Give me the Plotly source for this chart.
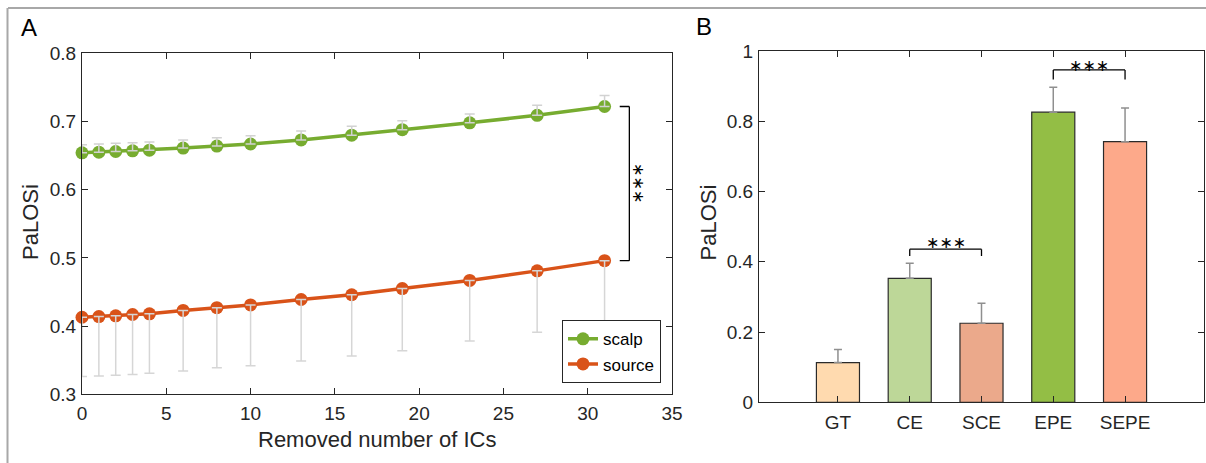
import plotly.graph_objects as go

# ---------------- data ----------------
ic_removed = [0, 1, 2, 3, 4, 6, 8, 10, 13, 16, 19, 23, 27, 31]
scalp_mean = [0.654, 0.655, 0.656, 0.657, 0.658, 0.661, 0.664, 0.667, 0.673, 0.680, 0.688, 0.698, 0.709, 0.722]
scalp_err = [0.012, 0.012, 0.012, 0.012, 0.012, 0.012, 0.012, 0.012, 0.013, 0.013, 0.013, 0.013, 0.015, 0.016]
source_mean = [0.413, 0.414, 0.415, 0.417, 0.418, 0.423, 0.427, 0.431, 0.439, 0.446, 0.455, 0.467, 0.481, 0.496]
source_err = [0.087, 0.087, 0.087, 0.088, 0.087, 0.089, 0.088, 0.089, 0.090, 0.090, 0.091, 0.089, 0.090, 0.091]

groups = ["GT", "CE", "SCE", "EPE", "SEPE"]
group_mean = [0.113, 0.353, 0.225, 0.826, 0.742]
group_err = [0.037, 0.043, 0.057, 0.071, 0.096]
group_colors = ["#FFDAAF", "#BDD798", "#EBA98B", "#93BE45", "#FDA98A"]

W, H = 1206, 463
FONT = "Liberation Sans, Arial, sans-serif"
AX = "#262626"
GREEN = "#77AC30"
ORANGE = "#D95319"


def px_x(p):
    return p / W


def px_y(p):
    return 1 - p / H


fig = go.Figure()

# ---------------- panel A ----------------
fig.add_trace(go.Scatter(
    x=ic_removed, y=scalp_mean, mode="lines+markers", name="scalp",
    line=dict(color=GREEN, width=3.5), marker=dict(color=GREEN, size=13),
    cliponaxis=False, xaxis="x", yaxis="y"))
fig.add_trace(go.Scatter(
    x=ic_removed, y=source_mean, mode="lines+markers", name="source",
    line=dict(color=ORANGE, width=3.5), marker=dict(color=ORANGE, size=13),
    cliponaxis=False, xaxis="x", yaxis="y"))
# error bars drawn above markers
fig.add_trace(go.Scatter(
    x=ic_removed, y=scalp_mean, mode="markers", showlegend=False, hoverinfo="skip",
    marker=dict(color="rgba(0,0,0,0)", size=1),
    error_y=dict(type="data", symmetric=False, array=scalp_err,
                 arrayminus=[0] * len(scalp_err), color="#d2d2d2", thickness=1.5, width=5),
    cliponaxis=False, xaxis="x", yaxis="y"))
fig.add_trace(go.Scatter(
    x=ic_removed, y=source_mean, mode="markers", showlegend=False, hoverinfo="skip",
    marker=dict(color="rgba(0,0,0,0)", size=1),
    error_y=dict(type="data", symmetric=False, array=[0] * len(source_err),
                 arrayminus=source_err, color="#d6d6d6", thickness=1.5, width=5),
    cliponaxis=False, xaxis="x", yaxis="y"))

# ---------------- panel B ----------------
fig.add_trace(go.Bar(
    x=groups, y=group_mean, width=0.6, showlegend=False,
    marker=dict(color=group_colors, line=dict(color="#2a2a2a", width=1.2)),
    error_y=dict(type="data", symmetric=False, array=group_err,
                 arrayminus=[0] * len(group_err), color="#8f8f8f", thickness=1.5, width=4),
    xaxis="x2", yaxis="y2"))

axis_common = dict(showline=True, linecolor=AX, linewidth=1, mirror="ticks",
                   ticks="inside", ticklen=6, tickcolor=AX, tickwidth=1,
                   showgrid=False, zeroline=False, automargin=False,
                   tickfont=dict(family=FONT, size=19, color=AX))

fig.update_layout(
    width=W, height=H,
    margin=dict(l=0, r=0, t=0, b=0, pad=0, autoexpand=False),
    paper_bgcolor="white", plot_bgcolor="white",
    font=dict(family=FONT, color=AX),
    xaxis=dict(domain=[px_x(82), px_x(672)], range=[0, 35], dtick=5, tick0=0,
               anchor="y", ticklabelstandoff=2, **axis_common),
    yaxis=dict(domain=[px_y(394.3), px_y(53.3)], range=[0.3, 0.8], dtick=0.1,
               tick0=0.3, tickformat=".1f", anchor="x", ticklabelstandoff=1, **axis_common),
    xaxis2=dict(domain=[px_x(759), px_x(1204)], range=[-1.1, 5.1],
                type="category", anchor="y2", ticklabelstandoff=3, **axis_common),
    yaxis2=dict(domain=[px_y(402.3), px_y(51)], range=[0, 1], dtick=0.2,
                tick0=0, anchor="x2", ticklabelstandoff=1, **axis_common),
    legend=dict(x=px_x(661), y=px_y(383.3), xanchor="right", yanchor="bottom",
                bgcolor="white", bordercolor=AX, borderwidth=1,
                font=dict(family=FONT, size=17, color="#000000"),
                tracegroupgap=0, itemwidth=30),
    showlegend=True,
)

shapes = []
# outer frame (top and left)
shapes.append(dict(type="line", xref="paper", yref="paper",
                   x0=px_x(8), x1=1, y0=px_y(8), y1=px_y(8),
                   line=dict(color="#a8a8a8", width=2)))
shapes.append(dict(type="line", xref="paper", yref="paper",
                   x0=px_x(7.5), x1=px_x(7.5), y0=px_y(8), y1=0,
                   line=dict(color="#a8a8a8", width=2)))

# bracket in panel A between scalp and source at last point
bx0, bx1 = 31.9, 32.47
ytop, ybot = scalp_mean[-1], source_mean[-1]
for (xa, ya, xb, yb) in [(bx1, ytop, bx1, ybot), (bx0, ytop, bx1, ytop), (bx0, ybot, bx1, ybot)]:
    shapes.append(dict(type="line", xref="x", yref="y", x0=xa, y0=ya, x1=xb, y1=yb,
                       line=dict(color="#000000", width=1.3)))

# brackets in panel B
for (g0, g1, yh, yl) in [("CE", "SCE", 0.436, 0.4165), ("EPE", "SEPE", 0.946, 0.919)]:
    i0, i1 = groups.index(g0), groups.index(g1)
    for (xa, ya, xb, yb) in [(i0, yh, i1, yh), (i0, yh, i0, yl), (i1, yh, i1, yl)]:
        shapes.append(dict(type="line", xref="x2", yref="y2", x0=xa, y0=ya, x1=xb, y1=yb,
                           line=dict(color="#000000", width=1.3)))
fig.update_layout(shapes=shapes)

STAR = "\u2217\u2217\u2217"
annotations = [
    dict(text="A", x=px_x(29.2), y=px_y(27.8), xref="paper", yref="paper",
         showarrow=False, font=dict(family=FONT, size=24, color="#000000"),
         xanchor="center", yanchor="middle"),
    dict(text="B", x=px_x(703.7), y=px_y(26.7), xref="paper", yref="paper",
         showarrow=False, font=dict(family=FONT, size=24, color="#000000"),
         xanchor="center", yanchor="middle"),
    dict(text="Removed number of ICs", x=px_x(376.5), y=px_y(439.8), xref="paper", yref="paper",
         showarrow=False, font=dict(family=FONT, size=22, color=AX),
         xanchor="center", yanchor="middle"),
    dict(text="PaLOSi", x=px_x(30.3), y=px_y(221.7), xref="paper", yref="paper",
         showarrow=False, textangle=-90, font=dict(family=FONT, size=22, color=AX),
         xanchor="center", yanchor="middle"),
    dict(text="PaLOSi", x=px_x(708.3), y=px_y(222.2), xref="paper", yref="paper",
         showarrow=False, textangle=-90, font=dict(family=FONT, size=22, color=AX),
         xanchor="center", yanchor="middle"),
    dict(text=STAR, x=32.97, y=0.61, xref="x", yref="y", showarrow=False, textangle=90,
         font=dict(family="DejaVu Sans", size=16, color="#000000"),
         xanchor="center", yanchor="middle"),
    dict(text=STAR, x=1.5, y=0.454, xref="x2", yref="y2", showarrow=False,
         font=dict(family="DejaVu Sans", size=16, color="#000000"),
         xanchor="center", yanchor="middle"),
    dict(text=STAR, x=3.5, y=0.960, xref="x2", yref="y2", showarrow=False,
         font=dict(family="DejaVu Sans", size=16, color="#000000"),
         xanchor="center", yanchor="middle"),
]
fig.update_layout(annotations=annotations)

fig.write_html("out.html")
